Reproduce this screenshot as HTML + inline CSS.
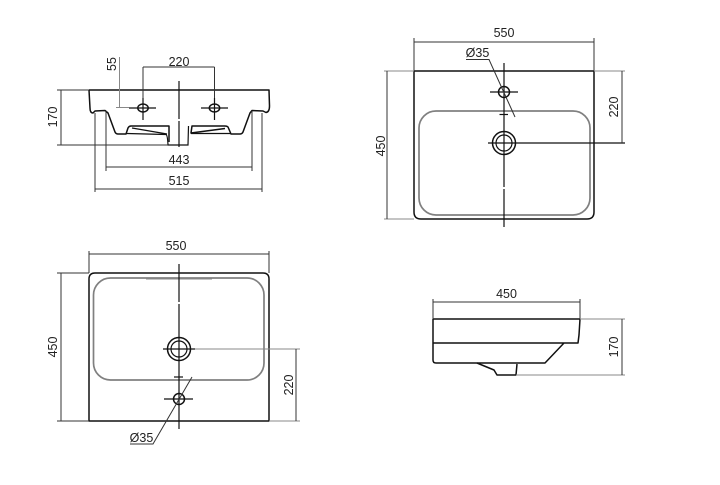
<!DOCTYPE html>
<html><head><meta charset="utf-8"><style>
html,body{margin:0;padding:0;background:#fff;width:720px;height:485px;overflow:hidden}
svg{display:block}
text{font-family:"Liberation Sans",sans-serif;font-size:12.5px;fill:#222;text-anchor:middle}
.b{fill:none;stroke:#111;stroke-width:1.5;stroke-linejoin:round}
.d{fill:none;stroke:#333;stroke-width:1}
.g{fill:none;stroke:#888;stroke-width:1}
.c{fill:none;stroke:#111;stroke-width:1.2}
.bs{fill:none;stroke:#808080;stroke-width:1.7}
</style></head><body>
<svg width="720" height="485" viewBox="0 0 720 485">
<!-- Top-left: front view -->
<path class="b" d="M89,90H269L269.500,106Q269.500,112 266,112.500L263,111L252,110.500L250,113L243,132Q242,134 240,134H231L228,127Q227,126 225,126H192L191,133L225,128.500"/>
<path class="b" d="M89,90L90,108Q90,113 93,113L95,111L105,110.500L108,113L115,132Q116,134 118,134H126L128,128Q129,126 131,126H169V142"/>
<path class="c" d="M126,133.500L166,134.500Q167.500,135 168,145H188L188.500,126M132,128L167,134M191,133.500H231"/>
<path class="d" d="M57,90H89M57,145H168M61,90V145"/>
<path class="g" d="M119.500,57V107.500H116M119.500,107.500H129"/>
<path class="d" d="M143,67H214.500M143,67V120M214.500,67V120"/>
<path class="c" d="M179,81V119M179,121V147"/>
<ellipse class="b" cx="143" cy="108" rx="5.200" ry="4"/><ellipse class="b" cx="214.500" cy="108" rx="5.200" ry="4"/>
<path class="c" d="M129,108H156M143,98V120M201,108H228M214.500,98V120"/>
<path class="d" d="M106,111V171M252,111V171M106,167H252"/>
<path class="d" d="M95,113V192M262,113V192M95,189H262"/>
<text x="179" y="66">220</text>
<text x="179" y="164">443</text>
<text x="179" y="185">515</text>
<text transform="translate(116,64) rotate(-90)">55</text>
<text transform="translate(57,117) rotate(-90)">170</text>
<!-- Top-right: plan -->
<path class="b" d="M414,71H594V212Q594,219 587,219H421Q414,219 414,212Z"/>
<rect class="bs" x="419" y="111" width="171" height="104" rx="17"/>
<path class="c" d="M504,63V187M504,189V227"/>
<circle class="b" cx="504" cy="92" r="5.500"/>
<path class="c" d="M490,92H518"/>
<circle class="b" cx="504" cy="143" r="11.500"/><circle class="c" cx="504" cy="143" r="8"/>
<path class="c" d="M488,143H625"/>
<path class="c" d="M499.500,114.500H508"/>
<path class="d" d="M414,38V71M594,38V71M414,42H594"/>
<path class="g" d="M384,71H414M594,71H625M384,219H414"/>
<path class="d" d="M387,71V219M622,71V143"/>
<path class="d" d="M466,59.500H489L515,117"/>
<text x="504" y="37">550</text>
<text x="477.500" y="57">Ø35</text>
<text transform="translate(385,146) rotate(-90)">450</text>
<text transform="translate(618,107) rotate(-90)">220</text>
<!-- Bottom-left: plan -->
<path class="b" d="M95,273H263Q269,273 269,279V421H89V279Q89,273 95,273Z"/>
<rect class="bs" x="93.500" y="278" width="170.500" height="102" rx="17"/>
<path class="g" d="M146,279H212"/>
<path class="c" d="M179,264V302M179,304V429"/>
<circle class="b" cx="179" cy="349" r="11.500"/><circle class="c" cx="179" cy="349" r="8"/>
<path class="c" d="M163,349H195"/>
<path class="g" d="M195,349H300M269,421H300"/>
<circle class="b" cx="179" cy="399" r="5.500"/>
<path class="c" d="M164,399H193"/>
<path class="c" d="M174,377H183"/>
<path class="d" d="M89,251V273M269,251V273M89,254H269"/>
<path class="d" d="M57,273H89M57,421H89M61,273V421M296,349V421"/>
<path class="d" d="M130,444H153L192,377"/>
<text x="176" y="250">550</text>
<text x="141.500" y="442">Ø35</text>
<text transform="translate(57,347) rotate(-90)">450</text>
<text transform="translate(293,385) rotate(-90)">220</text>
<!-- Bottom-right: side -->
<path class="b" d="M433,319H580L579,335L578,343H433M433,319V360Q433,363 436,363H545L564,343"/>
<path class="b" d="M477,363L494,370L497,375H516L517,364"/>
<path class="d" d="M433,299V319M580,299V319M433,302H580"/>
<path class="g" d="M580,319H625M516,375H625"/>
<path class="d" d="M622,319V375"/>
<text x="506.500" y="298">450</text>
<text transform="translate(618,347) rotate(-90)">170</text>
</svg>
</body></html>
